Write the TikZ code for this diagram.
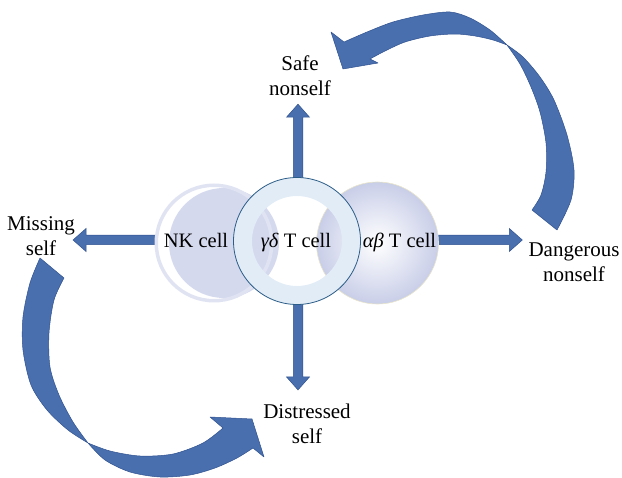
\documentclass[tikz,border=0pt]{standalone}
\usepackage{fontspec}
\setmainfont{Liberation Serif}
\usetikzlibrary{positioning,calc,backgrounds}
\definecolor{arrfill}{HTML}{4A6FAF}
\definecolor{arredge}{HTML}{2F528F}
\definecolor{nkfill}{HTML}{D4D9EE}
\definecolor{nkline}{HTML}{E0E3F2}
\definecolor{gdfill}{HTML}{E2ECF6}
\definecolor{gdline}{HTML}{2B5D88}
\definecolor{abfill}{HTML}{C9CEE8}
\definecolor{abline}{HTML}{E8E4CA}
\newcommand{\sw}{4.75pt}
\newcommand{\hw}{11.5pt}
\newcommand{\hl}{13pt}
\tikzset{
  blockarrow/.style={draw=arredge, fill=arrfill, line width=0.5pt,
    to path={($(\tikztostart)!\sw!90:(\tikztotarget)$)
      -- ($(\tikztotarget)!\hl!(\tikztostart)!\sw!-90:(\tikztostart)$)
      -- ($(\tikztotarget)!\hl!(\tikztostart)!\hw!-90:(\tikztostart)$)
      -- (\tikztotarget)
      -- ($(\tikztotarget)!\hl!(\tikztostart)!\hw!90:(\tikztostart)$)
      -- ($(\tikztotarget)!\hl!(\tikztostart)!\sw!90:(\tikztostart)$)
      -- ($(\tikztostart)!\sw!-90:(\tikztotarget)$) -- cycle}},
  bendarrow/.style={draw=arredge, fill=arrfill, line width=0.5pt, line join=round},
  lbl/.style={align=center, inner sep=1pt, font=\fontsize{21}{25}\selectfont},
  celltext/.style={inner sep=0pt, font=\fontsize{20.5}{24}\selectfont},
}

\begin{document}
\begin{tikzpicture}[x=1pt, y=-1pt]
\useasboundingbox (0,0) rectangle (622,478);
% cells
\node[circle, fill=nkfill, minimum size=110pt, inner sep=0pt] (nkcore) at (224,243) {};
\node[circle, draw=nkline, line width=3.5pt, minimum size=115.5pt, inner sep=0pt] (nk) at (214,243) {};
\node[circle, inner color=white, outer color=abfill, draw=abline, line width=0.6pt,
      minimum size=122pt, inner sep=0pt] (ab) at (377.5,243) {};
\node[circle, draw=gdfill, line width=18.5pt, minimum size=108.5pt, inner sep=0pt] (gd) at (297,241) {};
\draw[gdline, line width=0.8pt] (gd.center) circle (63.5);
\node[celltext, anchor=base] (nktext) at ($(nk.center)+(-18,5)$) {NK cell};
\node[celltext, anchor=base] (gdtext) at ($(gd.center)+(-1,7)$) {\textit{γδ} T cell};
\node[celltext, anchor=base] (abtext) at ($(ab.center)+(22,5)$) {\textit{αβ} T cell};
% labels
\node[lbl] (safe) at (300,76)  {Safe\\nonself};
\node[lbl] (miss) at (41,236)  {Missing\\self};
\node[lbl] (dang) at (574,262) {Dangerous\\nonself};
\node[lbl] (dist) at (307,424) {Distressed\\self};
%
\coordinate (tipL) at ($(nk.west -| miss.east)+(-3,-3)$);
\coordinate (tipR) at ($(ab.east -| dang.west)+(-5,-3)$);
\coordinate (tipU) at ($(safe.south -| gd.north)+(1,7)$);
\coordinate (tipD) at ($(dist.north -| gd.south)+(1,-13)$);
\begin{pgfonlayer}{background}
\path[blockarrow] ($(nk.west |- tipL)+(2,0)$)  to (tipL);
\path[blockarrow] ($(ab.east |- tipR)+(-1,0)$) to (tipR);
\path[blockarrow] ($(gd.north -| tipU)+(0,3)$) to (tipU);
\path[blockarrow] ($(gd.south -| tipD)+(0,-3)$) to (tipD);
\end{pgfonlayer}
% curved arrows
\filldraw[bendarrow] (343,69) -- (331,32)
  -- plot[smooth] coordinates {(344,42) (367,32) (393,22) (423,15) (450,12) (470,18) (490,30) (507,45)}
  -- plot[smooth] coordinates {(507,45) (523,57) (540,77) (554,100) (567,135) (574,170) (571,200) (557,230)}
  -- (532,210)
  -- plot[smooth] coordinates {(532,210) (541,195) (546,172) (546,143) (540,112) (531,87) (520,64) (507,45)}
  -- plot[smooth] coordinates {(507,45) (493,40) (475,36) (455,34) (430,36) (405,42) (385,51) (370,59)}
  -- (378,63) -- cycle;
\filldraw[bendarrow] (40,258)
  -- plot[smooth] coordinates {(40,258) (30,283) (23,317) (23,350) (31,385) (47,410) (68,430) (88,443)}
  -- plot[smooth] coordinates {(88,443) (105,460) (130,472) (160,477) (190,475) (215,468) (237,458) (253,448)}
  -- (264,457) -- (252,419) -- (210,417) -- (223,428)
  -- plot[smooth] coordinates {(223,428) (203,443) (173,454) (140,456) (110,451) (88,443)}
  -- plot[smooth] coordinates {(88,443) (73,422) (59,395) (50,367) (49,333) (54,300) (64,278)}
  -- cycle;
\end{tikzpicture}
\end{document}
